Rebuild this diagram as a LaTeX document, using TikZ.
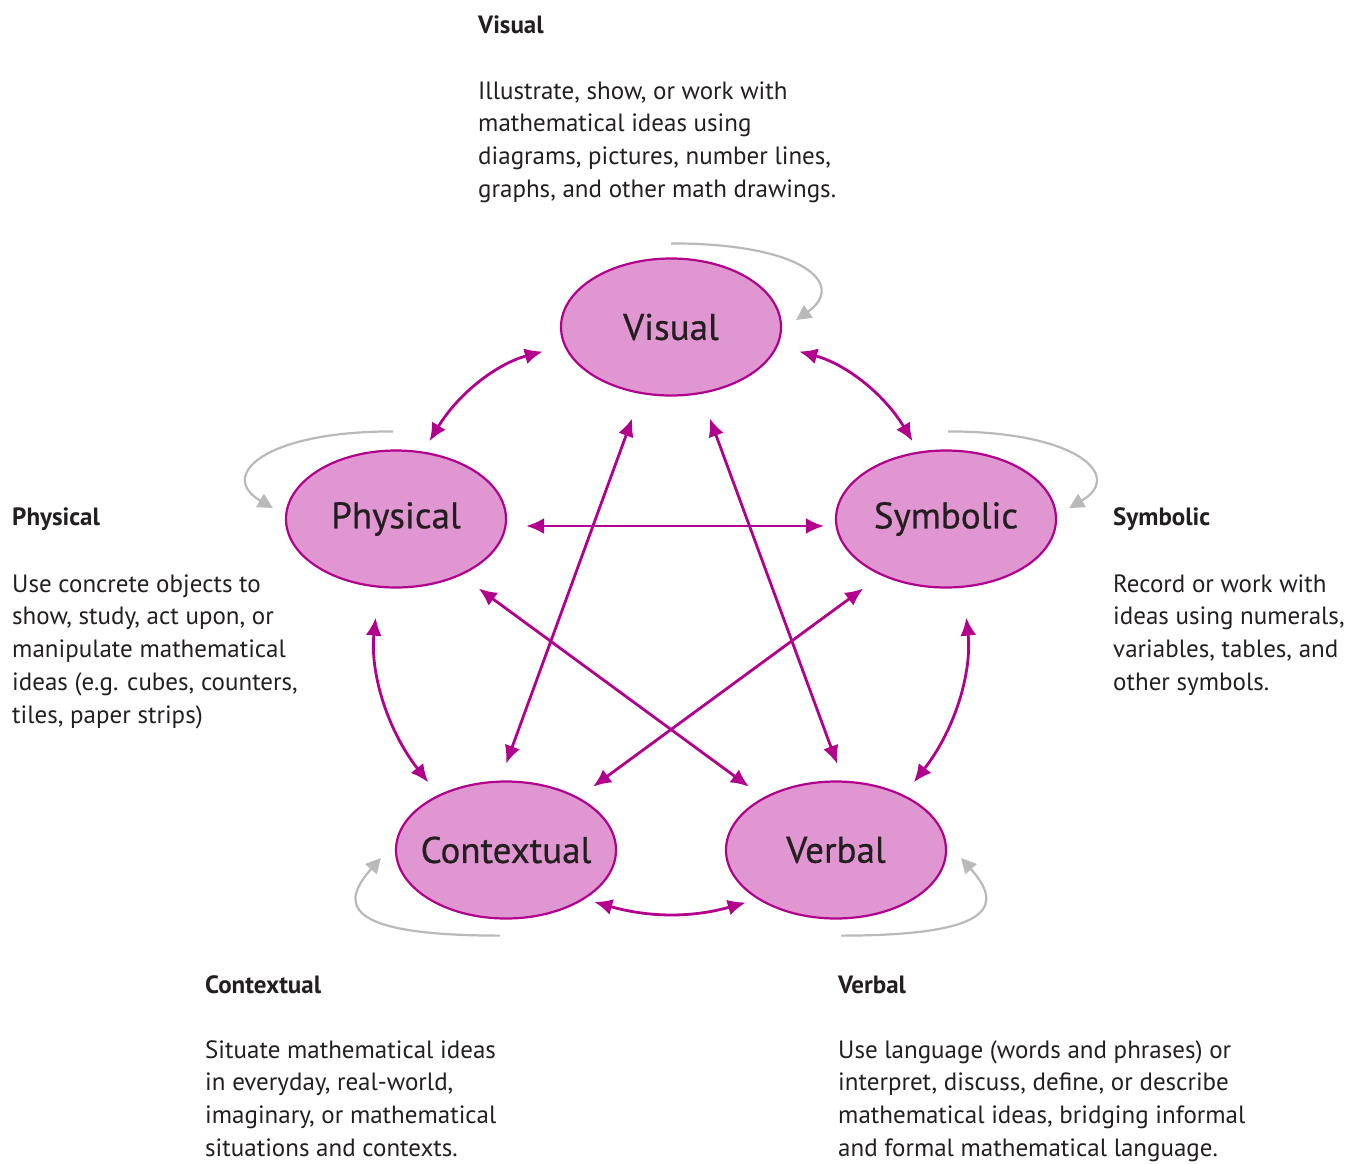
\documentclass[tikz,border=0pt]{standalone}
\usepackage{fontspec}
\setmainfont{PT Sans}
\usetikzlibrary{shapes.geometric,arrows.meta}
\definecolor{nodefill}{RGB}{224,150,208}
\definecolor{nodeline}{RGB}{176,0,140}
\definecolor{arrmag}{RGB}{178,0,140}
\definecolor{loopgray}{RGB}{185,185,185}
\definecolor{txt}{RGB}{35,31,32}
\tikzset{
  rep/.style={ellipse, draw=nodeline, fill=nodefill, line width=2.2pt,
    minimum width=220pt, minimum height=137pt, inner xsep=-25pt, inner ysep=0pt,
    font=\fontsize{37}{42}\selectfont\addfontfeature{FakeBold=0.6}, text=txt},
  arr/.style={draw=arrmag, line width=2.8pt,
    {Latex[length=18pt,width=16pt]}-{Latex[length=18pt,width=16pt]},
    shorten <=18pt, shorten >=18pt},
  loop/.style={draw=loopgray, line width=2.2pt, -{Triangle[length=15pt,width=15pt]}},
  head/.style={anchor=base west, inner sep=0pt, font=\bfseries\fontsize{25}{33}\selectfont, text=txt},
  body/.style={anchor=north west, inner sep=0pt, align=left, font=\fontsize{25}{32.8}\selectfont, text=txt}
}
\begin{document}
\begin{tikzpicture}[x=1pt,y=1pt]
\useasboundingbox (0,0) rectangle (1366,-1163);
% nodes
\node[rep] (V) at (671,-327) {Visual};
\node[rep] (P) at (396,-519) {Physical};
\node[rep] (S) at (946,-519) {Symbolic};
\node[rep] (C) at (506,-850) {Contextual};
\node[rep] (B) at (836,-850) {Verbal};
% magenta connectors
\draw[arr, shorten <=22pt, shorten >=12pt] (V.190) to[bend right=22] (P.68);
\draw[arr, shorten <=22pt, shorten >=12pt] (V.350) to[bend left=22] (S.112);
\draw[arr, shorten <=19pt, shorten >=11pt] ([yshift=-7pt]P.east) -- ([yshift=-7pt]S.west);
\draw[arr, shorten <=30pt, shorten >=16pt] (P.256) to[bend right=22] (C.141);
\draw[arr, shorten <=30pt, shorten >=16pt] (S.284) to[bend left=22] (B.39);
\draw[arr, shorten <=10pt, shorten >=12pt] (C.-32) to[bend right=16] (B.212);
\draw[arr, shorten <=26pt] (V.246) -- (C.95);
\draw[arr, shorten <=26pt] (V.294) -- (B.84);
\draw[arr, shorten <=22pt] (P.319) -- (B.144);
\draw[arr, shorten <=22pt] (S.221) -- (C.36);
% gray self loops
\draw[loop] ([yshift=14pt]V.north) .. controls +(135,0) and +(50,35) .. ([shift={(14pt,7pt)}]V.east);
\draw[loop] ([shift={(-3pt,18pt)}]P.north) .. controls +(-130,0) and +(-55,32) .. ([shift={(-12pt,11pt)}]P.west);
\draw[loop] ([shift={(2pt,18pt)}]S.north) .. controls +(130,0) and +(55,32) .. ([shift={(12pt,11pt)}]S.east);
\draw[loop] ([shift={(-6pt,-16pt)}]C.south) .. controls +(-160,0) and +(-40,-45) .. ([shift={(-14pt,-8pt)}]C.west);
\draw[loop] ([shift={(5pt,-16pt)}]B.south) .. controls +(160,0) and +(40,-45) .. ([shift={(14pt,-8pt)}]B.east);
% texts
\node[head] (hV) at (478,-33) {Visual};
\node[body] (tV) at (478,-76) {\strut Illustrate, show, or work with\\mathematical ideas using\\diagrams, pictures, number lines,\\graphs, and other math drawings.};
\node[head] (hP) at (12,-525) {Physical};
\node[body] (tP) at (12,-569) {\strut Use concrete objects to\\show, study, act upon, or\\manipulate mathematical\\ideas (e.g. cubes, counters,\\tiles, paper strips)};
\node[head] (hS) at (1113,-525) {Symbolic};
\node[body] (tS) at (1113,-569) {\strut Record or work with\\ideas using numerals,\\variables, tables, and\\other symbols.};
\node[head] (hC) at (205,-993) {Contextual};
\node[body] (tC) at (205,-1035) {\strut Situate mathematical ideas\\in everyday, real-world,\\imaginary, or mathematical\\situations and contexts.};
\node[head] (hB) at (838,-993) {Verbal};
\node[body] (tB) at (838,-1035) {\strut Use language (words and phrases) or\\interpret, discuss, define, or describe\\mathematical ideas, bridging informal\\and formal mathematical language.};
\end{tikzpicture}
\end{document}
